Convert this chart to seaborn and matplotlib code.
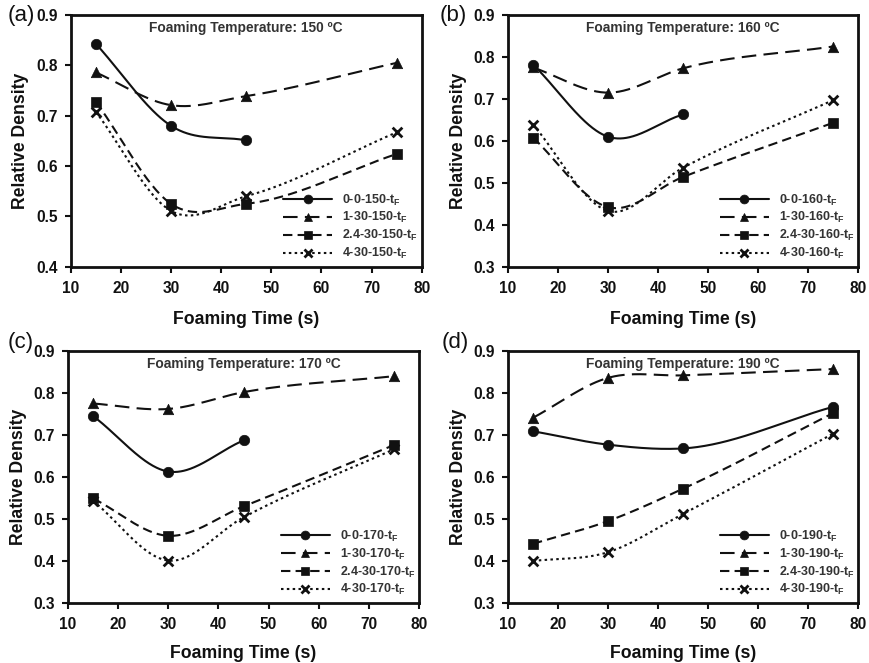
import numpy as np
import pandas as pd
import matplotlib
matplotlib.use("Agg")
import matplotlib.pyplot as plt
from matplotlib.lines import Line2D
import seaborn as sns

# Foaming time (s)
time_short = [15, 30, 45]
time_full = [15, 30, 45, 75]

# Relative density per foaming temperature, one list per processing route
rd_150_0_0 = [0.843, 0.680, 0.651]
rd_150_1_30 = [0.786, 0.721, 0.739, 0.805]
rd_150_24_30 = [0.728, 0.525, 0.525, 0.624]
rd_150_4_30 = [0.708, 0.511, 0.540, 0.667]

rd_160_0_0 = [0.782, 0.610, 0.663]
rd_160_1_30 = [0.775, 0.715, 0.773, 0.825]
rd_160_24_30 = [0.608, 0.442, 0.514, 0.643]
rd_160_4_30 = [0.639, 0.433, 0.536, 0.697]

rd_170_0_0 = [0.745, 0.613, 0.687]
rd_170_1_30 = [0.775, 0.762, 0.802, 0.840]
rd_170_24_30 = [0.549, 0.460, 0.530, 0.676]
rd_170_4_30 = [0.543, 0.401, 0.504, 0.666]

rd_190_0_0 = [0.709, 0.677, 0.668, 0.767]
rd_190_1_30 = [0.741, 0.836, 0.842, 0.857]
rd_190_24_30 = [0.441, 0.495, 0.572, 0.752]
rd_190_4_30 = [0.400, 0.421, 0.512, 0.703]

temperatures = [150, 160, 170, 190]
panel_tags = ["(a)", "(b)", "(c)", "(d)"]
route_prefixes = ["0-0", "1-30", "2.4-30", "4-30"]
y_limits = [(0.4, 0.9), (0.3, 0.9), (0.3, 0.9), (0.3, 0.9)]

panels = {
    150: [(time_short, rd_150_0_0), (time_full, rd_150_1_30), (time_full, rd_150_24_30), (time_full, rd_150_4_30)],
    160: [(time_short, rd_160_0_0), (time_full, rd_160_1_30), (time_full, rd_160_24_30), (time_full, rd_160_4_30)],
    170: [(time_short, rd_170_0_0), (time_full, rd_170_1_30), (time_full, rd_170_24_30), (time_full, rd_170_4_30)],
    190: [(time_full, rd_190_0_0), (time_full, rd_190_1_30), (time_full, rd_190_24_30), (time_full, rd_190_4_30)],
}

# Series styles
line_styles = ["-", (0, (7, 3.5)), (0, (4.5, 2.5)), (0, (1.2, 1.6))]
markers = ["o", "^", "s", "x"]
marker_sizes = [7.5, 7.5, 6.5, 7]

# Figure layout: axes boxes, panel-tag offsets and x-label padding
axes_boxes = [
    (0.0813, 0.5977, 0.4034, 0.3796),
    (0.5839, 0.5977, 0.4023, 0.3796),
    (0.0782, 0.0905, 0.4034, 0.3801),
    (0.5839, 0.0905, 0.4023, 0.3801),
]
tag_offsets = [(-0.181, 1.0), (-0.194, 1.0), (-0.171, 1.032), (-0.189, 1.032)]
xlabel_pads = [11, 11, 9, 9]


def smooth_curve(x, y, n=200):
    """Piecewise cubic Hermite curve through the points (three-point tangents)."""
    x = np.asarray(x, float)
    y = np.asarray(y, float)
    h = np.diff(x)
    s = np.diff(y) / h
    m = np.empty_like(y)
    m[0], m[-1] = s[0], s[-1]
    for i in range(1, len(x) - 1):
        m[i] = (h[i] * s[i - 1] + h[i - 1] * s[i]) / (h[i - 1] + h[i])
    xs = np.linspace(x[0], x[-1], n)
    idx = np.clip(np.searchsorted(x, xs, side="right") - 1, 0, len(x) - 2)
    t = (xs - x[idx]) / h[idx]
    h00 = 2 * t ** 3 - 3 * t ** 2 + 1
    h10 = t ** 3 - 2 * t ** 2 + t
    h01 = -2 * t ** 3 + 3 * t ** 2
    h11 = t ** 3 - t ** 2
    ys = h00 * y[idx] + h10 * h[idx] * m[idx] + h01 * y[idx + 1] + h11 * h[idx] * m[idx + 1]
    return xs, ys


sns.set_theme(style="ticks")
plt.rcParams["font.family"] = ["Liberation Sans", "DejaVu Sans"]
plt.rcParams["mathtext.fontset"] = "custom"
plt.rcParams["mathtext.rm"] = "Liberation Sans:bold"
plt.rcParams["mathtext.it"] = "Liberation Sans:bold"
plt.rcParams["mathtext.bf"] = "Liberation Sans:bold"

fig = plt.figure(figsize=(8.7, 6.63), dpi=100)
fig.patch.set_facecolor("white")

ink = "#111111"

for p, temp in enumerate(temperatures):
    ax = fig.add_axes(axes_boxes[p])
    handles = []
    for k, (tx, ty) in enumerate(panels[temp]):
        xs, ys = smooth_curve(tx, ty)
        curve = pd.DataFrame({"t": xs, "rd": ys})
        sns.lineplot(data=curve, x="t", y="rd", ax=ax, color=ink, lw=1.5,
                     linestyle=line_styles[k], sort=False, estimator=None)
        pts = pd.DataFrame({"t": tx, "rd": ty})
        if markers[k] == "x":
            sns.scatterplot(data=pts, x="t", y="rd", ax=ax, marker="x", s=marker_sizes[k] ** 2,
                            color=ink, linewidth=2.0, zorder=5)
        else:
            sns.scatterplot(data=pts, x="t", y="rd", ax=ax, marker=markers[k], s=marker_sizes[k] ** 2,
                            color=ink, edgecolor=ink, linewidth=0.5, zorder=5)
        handles.append(Line2D([0], [0], color=ink, lw=1.5, linestyle=line_styles[k],
                              marker=markers[k], markersize=marker_sizes[k] * 0.85,
                              markeredgewidth=2.0 if markers[k] == "x" else 0.5,
                              markerfacecolor=ink, markeredgecolor=ink,
                              label=f"{route_prefixes[k]}-{temp}-t$_\\mathregular{{F}}$"))

    ax.set_xlim(10, 80)
    ax.set_ylim(*y_limits[p])
    ax.set_xticks(np.arange(10, 81, 10))
    lo, hi = y_limits[p]
    ax.set_yticks(np.round(np.arange(lo, hi + 0.001, 0.1), 1))
    ax.set_yticklabels([f"{v:.1f}" for v in ax.get_yticks()])
    ax.tick_params(axis="both", direction="out", length=4.3, width=1.5, colors=ink,
                   labelsize=11.2)
    ax.tick_params(axis="x", pad=6)
    ax.tick_params(axis="y", pad=5)
    for lab in ax.get_xticklabels() + ax.get_yticklabels():
        lab.set_fontweight("bold")
    for sp in ax.spines.values():
        sp.set_visible(True)
        sp.set_linewidth(2.0)
        sp.set_color(ink)
    ax.set_xlabel("Foaming Time (s)", fontsize=12.7, fontweight="bold", color=ink,
                  labelpad=xlabel_pads[p])
    ax.set_ylabel("Relative Density", fontsize=12.7, fontweight="bold", color=ink, labelpad=5)
    ax.text(0.5, 0.975, f"Foaming Temperature: {temp} ºC", transform=ax.transAxes,
            ha="center", va="top", fontsize=9.9, fontweight="bold", color="#333333")
    ax.text(tag_offsets[p][0], tag_offsets[p][1], panel_tags[p], transform=ax.transAxes,
            ha="left", va="center", fontsize=16, color=ink)
    leg = ax.legend(handles=handles, loc="lower right", bbox_to_anchor=(0.99, 0.022),
                    borderaxespad=0, borderpad=0,
                    frameon=False, handlelength=3.9, handletextpad=0.8, labelspacing=0.22,
                    prop={"size": 9, "weight": "bold"})
    for txt in leg.get_texts():
        txt.set_color("#333333")

fig.savefig("out.png", dpi=100, facecolor="white")
